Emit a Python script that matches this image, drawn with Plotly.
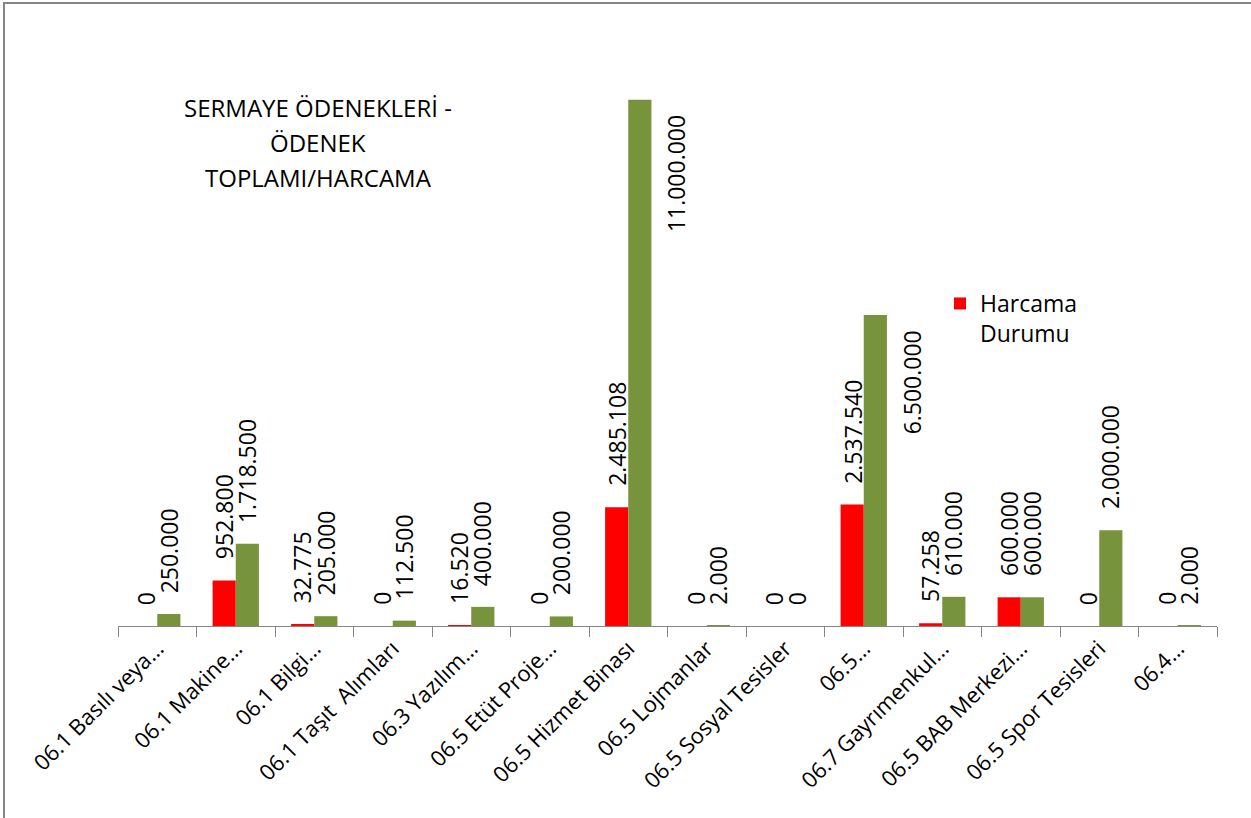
import plotly.graph_objects as go

# Kalemler (Excel'de kısaltılmış haliyle)
kalemler = ["06.1 Basılı veya…", "06.1 Makine…", "06.1 Bilgi…", "06.1 Taşıt  Alımları",
            "06.3 Yazılım…", "06.5 Etüt Proje…", "06.5 Hizmet Binası", "06.5 Lojmanlar",
            "06.5 Sosyal Tesisler", "06.5…", "06.7 Gayrımenkul…", "06.5 BAB Merkezi…",
            "06.5 Spor Tesisleri", "06.4…"]
harcama = [0, 952800, 32775, 0, 16520, 0, 2485108, 0, 0, 2537540, 57258, 600000, 0, 0]
odenek = [250000, 1718500, 205000, 112500, 400000, 200000, 11000000, 2000, 0, 6500000,
          610000, 600000, 2000000, 2000]

baslik_satirlari = ["SERMAYE ÖDENEKLERİ -", "ÖDENEK", "TOPLAMI/HARCAMA"]
FONT = "Open Sans"


def tr_format(v):
    return f"{v:,}".replace(",", ".")


W, H = 1251, 818
L, R, T, B = 118, 34, 52, 192
plot_w, plot_h = W - L - R, H - T - B


def px_x(p):  # pikselden paper koordinatına
    return (p - L) / plot_w


def px_y(p):
    return (H - B - p) / plot_h


fig = go.Figure()
fig.add_trace(go.Bar(x=kalemler, y=harcama, name="Harcama<br>Durumu",
                     marker=dict(color="#ff0000", line=dict(color="#c00000", width=0))))
fig.add_trace(go.Bar(x=kalemler, y=odenek, name="Ödenek Toplamı", showlegend=False,
                     marker=dict(color="#77933c", line=dict(color="#4f6228", width=0))))

# değer etiketleri (dikey)
off = 0.147
lbl_font = dict(size=23, family=FONT, color="black")
for i, (h, o) in enumerate(zip(harcama, odenek)):
    fig.add_annotation(x=i - off, y=h, text=tr_format(h), textangle=-90, showarrow=False,
                       yanchor="bottom", yshift=19, font=lbl_font)
    if o > 5000000:
        # Excel'de üstte yer kalmadığı için sağa kaydırılmış etiketler
        fig.add_annotation(x=i + off, y=o, text=tr_format(o), textangle=-90, showarrow=False,
                           yanchor="top", yshift=-13, xshift=37, font=lbl_font)
    else:
        fig.add_annotation(x=i + off, y=o, text=tr_format(o), textangle=-90, showarrow=False,
                           yanchor="bottom", yshift=19, font=lbl_font)

for k, satir in enumerate(baslik_satirlari):
    fig.add_annotation(x=px_x(318), y=px_y(107 + 35 * k), xref="paper", yref="paper", text=satir,
                       showarrow=False, xanchor="center", yanchor="middle",
                       font=dict(size=24, family=FONT, color="black"))

# grafik çerçevesi
fig.add_shape(type="rect", xref="paper", yref="paper", x0=px_x(4), x1=px_x(1270),
              y0=px_y(840), y1=px_y(3), line=dict(color="#868686", width=2))

fig.update_layout(
    width=W, height=H,
    margin=dict(l=L, r=R, t=T, b=B),
    paper_bgcolor="white", plot_bgcolor="white",
    barmode="group", bargap=0.41, bargroupgap=0,
    font=dict(family=FONT, size=22, color="black"),
    showlegend=True,
    legend=dict(x=px_x(940), y=px_y(282), xanchor="left", yanchor="top", valign="top",
                bgcolor="rgba(0,0,0,0)", font=dict(size=23, family=FONT)),
)
fig.update_xaxes(showline=True, linecolor="#868686", linewidth=1, ticks="outside",
                 tickson="boundaries", ticklen=10, tickcolor="#868686", tickangle=-45,
                 tickfont=dict(size=22, family=FONT), showgrid=False)
fig.update_yaxes(visible=False, range=[0, 12000000], showgrid=False)

fig.write_html("out.html", config={"displayModeBar": False},
               post_script="document.body.style.margin='0';")
